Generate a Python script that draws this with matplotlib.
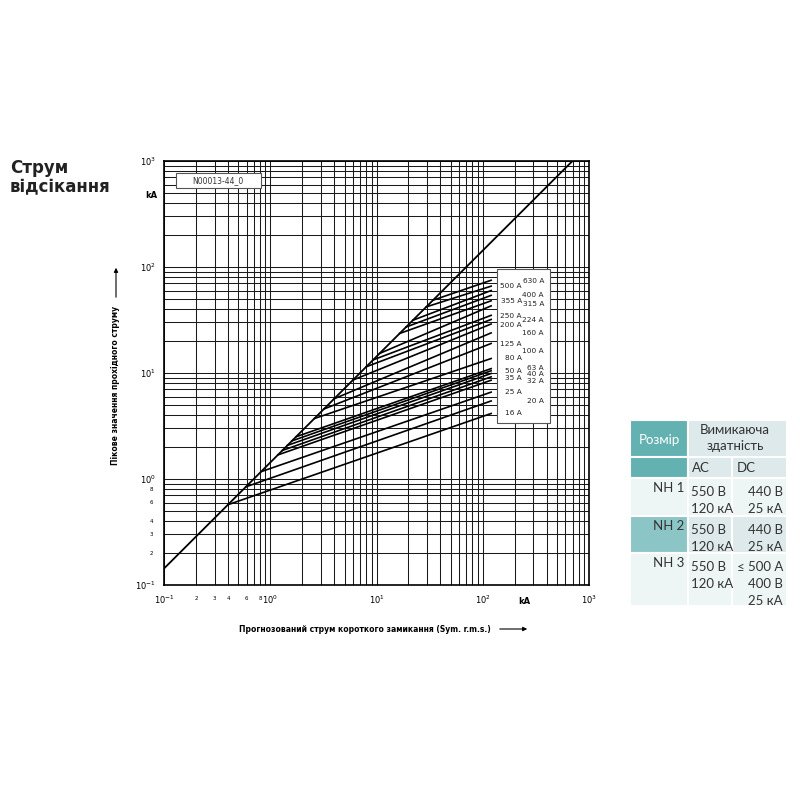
import matplotlib
matplotlib.use("Agg")
import matplotlib.pyplot as plt
from matplotlib.patches import Rectangle
from matplotlib.ticker import LogLocator, NullFormatter, FixedLocator
import numpy as np

ratings = ["16 A","20 A","25 A","32 A","35 A","40 A","50 A","63 A","80 A","100 A",
           "125 A","160 A","200 A","224 A","250 A","315 A","355 A","400 A","500 A","630 A"]
start_ka = [0.40,0.59,0.82,1.18,1.3,1.45,1.6,1.75,2.6,3.2,4.0,6.0,8.0,9.3,10.7,16.5,19,22,29.4,34]
end_peak = [4.15,5.45,6.6,8.55,9.2,9.9,10.5,11.0,13.7,19,23.9,29,32,35,43,48,54,60,66,75]
end_ka = 120
diag_ratio = 1.43
diag_x = [0.1, 700]

W = H = 800
fig = plt.figure(figsize=(8,8), dpi=100)
def fx(x): return x/W
def fy(y): return 1-y/H

ax = fig.add_axes([fx(164), fy(585), 425/W, 424/H])
ax.set_xscale("log"); ax.set_yscale("log")
ax.set_xlim(0.1,1000); ax.set_ylim(0.1,1000)
ax.grid(True, which="both", color="#1a1a1a", lw=0.75)
for s in ax.spines.values(): s.set_linewidth(1.2)
ax.plot(diag_x, [v*diag_ratio for v in diag_x], color="black", lw=1.3)
for x0, y1 in zip(start_ka, end_peak):
    ax.plot([x0, end_ka], [x0*diag_ratio, y1], color="black", lw=1.2)

ax.tick_params(which="both", length=0, labelsize=5, pad=6)
ax.xaxis.set_major_locator(FixedLocator([0.1,1,10,100,1000]))
ax.yaxis.set_major_locator(FixedLocator([0.1,1,10,100,1000]))
ax.set_xticklabels(["10$^{-1}$","10$^{0}$","10$^{1}$","10$^{2}$","10$^{3}$"], fontsize=6)
ax.set_yticklabels(["10$^{-1}$","10$^{0}$","10$^{1}$","10$^{2}$","10$^{3}$"], fontsize=6)
ax.xaxis.set_minor_locator(LogLocator(subs=np.arange(2,10), numticks=20))
ax.yaxis.set_minor_locator(LogLocator(subs=np.arange(2,10), numticks=20))
ax.xaxis.set_minor_formatter(NullFormatter()); ax.yaxis.set_minor_formatter(NullFormatter())
for v in [2,3,4,6,8]:
    ax.text(v*0.1, -0.025, str(v), transform=ax.get_xaxis_transform(), fontsize=4, ha="center", va="top")
    ax.text(-0.025, v*0.1, str(v), transform=ax.get_yaxis_transform(), fontsize=4, ha="right", va="center")
fig.text(fx(151), fy(195), "kA", fontsize=6, fontweight="bold", ha="center", va="center")
fig.text(fx(524), fy(601), "kA", fontsize=6, fontweight="bold", ha="center", va="center")

fig.patches.append(Rectangle((fx(176), fy(188)), 85/W, 15/H, transform=fig.transFigure,
                             facecolor="white", edgecolor="#555555", lw=0.8, zorder=5))
fig.text(fx(218), fy(180.5), "N00013-44_0", fontsize=5.5, ha="center", va="center", zorder=6, color="#333333")

fig.patches.append(Rectangle((fx(497), fy(423)), 53/W, 154/H, transform=fig.transFigure,
                             facecolor="white", edgecolor="#555555", lw=0.8, zorder=5))
left_lab = {"500 A":286,"355 A":301,"250 A":316,"200 A":325,"125 A":344,"80 A":358,"50 A":371,"35 A":378,"25 A":392,"16 A":413}
right_lab = {"630 A":281,"400 A":295,"315 A":304,"224 A":320,"160 A":333,"100 A":351,"63 A":368,"40 A":374,"32 A":381,"20 A":401}
for t, y in left_lab.items():
    fig.text(fx(522), fy(y), t, fontsize=5.3, ha="right", va="center", zorder=6, color="#222222")
for t, y in right_lab.items():
    fig.text(fx(544), fy(y), t, fontsize=5.3, ha="right", va="center", zorder=6, color="#222222")

fig.text(fx(365), fy(630), "Прогнозований струм короткого замикання (Sym. r.m.s.)", fontsize=5.5,
         fontweight="bold", ha="center", va="center")
fig.add_artist(matplotlib.patches.FancyArrowPatch((fx(497), fy(629)), (fx(530), fy(629)), transform=fig.transFigure,
               arrowstyle="-|>", mutation_scale=6, lw=0.8, color="black"))
fig.text(fx(116), fy(385), "Пікове значення прохідного струму", fontsize=5.5, fontweight="bold",
         rotation=90, ha="center", va="center")
fig.add_artist(matplotlib.patches.FancyArrowPatch((fx(116), fy(300)), (fx(116), fy(265)), transform=fig.transFigure,
               arrowstyle="-|>", mutation_scale=6, lw=0.8, color="black"))

fig.text(fx(10), fy(168), "Струм", fontsize=12, fontweight="bold", va="center", color="#222222")
fig.text(fx(10), fy(187), "відсікання", fontsize=12, fontweight="bold", va="center", color="#222222")

teal = "#63b1b1"; light = "#eef5f5"; mid = "#dde9ea"
cols = [630, 688, 732, 787]
rows = [420, 457, 478, 516, 553, 606]
def cell(c0, c1, r0, r1, color):
    fig.patches.append(Rectangle((fx(c0), fy(r1)), (c1-c0)/W, (r1-r0)/H, transform=fig.transFigure,
                                 facecolor=color, edgecolor="white", lw=1.5))
cell(cols[0], cols[1], rows[0], rows[1], teal)
cell(cols[1], cols[3], rows[0], rows[1], mid)
cell(cols[0], cols[1], rows[1], rows[2], teal)
cell(cols[1], cols[2], rows[1], rows[2], mid); cell(cols[2], cols[3], rows[1], rows[2], mid)
for i in range(3):
    r0, r1 = rows[2+i], rows[3+i]
    cell(cols[0], cols[1], r0, r1, light if i != 1 else "#8cc5c5")
    cell(cols[1], cols[2], r0, r1, light if i != 1 else mid)
    cell(cols[2], cols[3], r0, r1, light if i != 1 else mid)
tf = dict(family=["Lato","DejaVu Sans"], fontsize=9.5, color="#333333")
fig.text(fx(659), fy(440), "Розмір", ha="center", va="center", **{**tf, "color":"white"})
fig.text(fx(735), fy(430), "Вимикаюча", ha="center", va="center", **tf)
fig.text(fx(735), fy(446), "здатність", ha="center", va="center", **tf)
fig.text(fx(692), fy(468), "AC", ha="left", va="center", **tf)
fig.text(fx(737), fy(468), "DC", ha="left", va="center", **tf)
nh = ["NH 1","NH 2","NH 3"]
ac = [["550 В","120 кА"]]*3
dc = [["440 В","25 кА"],["440 В","25 кА"],["≤ 500 А","400 В","25 кА"]]
for i in range(3):
    r0 = rows[2+i]
    fig.text(fx(684), fy(r0+10), nh[i], ha="right", va="center", **tf)
    for j, t in enumerate(ac[i]):
        fig.text(fx(691), fy(r0+14+j*17), t, ha="left", va="center", **tf)
    for j, t in enumerate(dc[i]):
        fig.text(fx(783), fy(r0+14+j*17), t, ha="right", va="center", **tf)

fig.savefig("out.png", dpi=100, facecolor="white")
